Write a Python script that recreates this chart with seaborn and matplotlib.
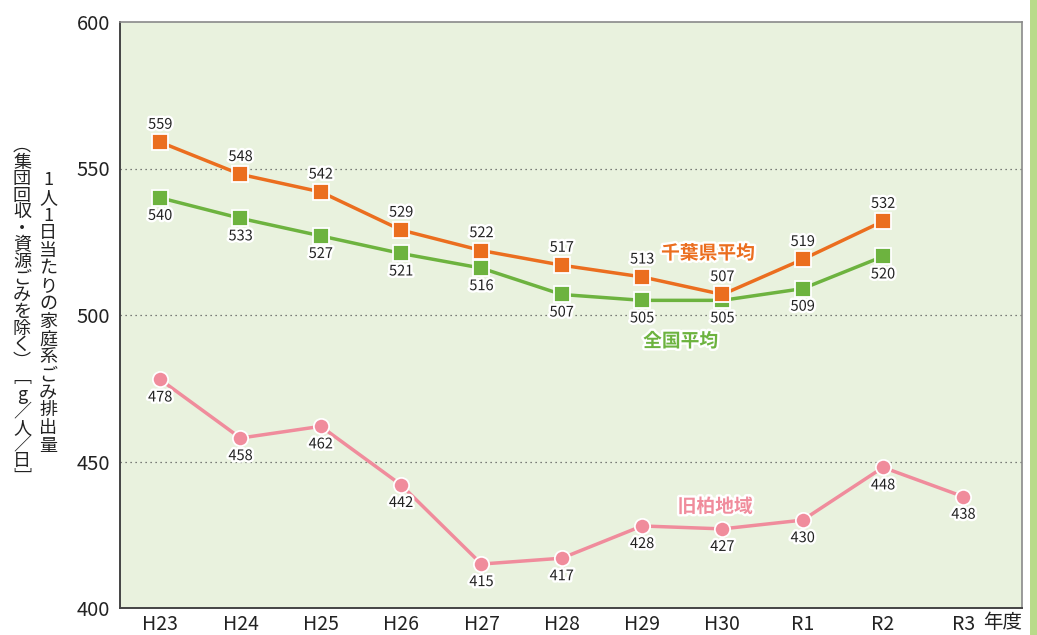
import numpy as np
import pandas as pd
import seaborn as sns
import matplotlib
matplotlib.use("Agg")
import matplotlib.pyplot as plt
import matplotlib.patheffects as pe
from matplotlib.patches import Rectangle

years = ["H23", "H24", "H25", "H26", "H27", "H28", "H29", "H30", "R1", "R2", "R3"]
chiba = [559, 548, 542, 529, 522, 517, 513, 507, 519, 532]
national = [540, 533, 527, 521, 516, 507, 505, 505, 509, 520]
kashiwa = [478, 458, 462, 442, 415, 417, 428, 427, 430, 448, 438]

ORANGE = "#EB6E1F"
GREEN = "#6DB33F"
PINK = "#F08C9C"
INK = "#222222"

sns.set_style("white")
plt.rcParams["font.family"] = ["Noto Sans CJK JP", "DejaVu Sans"]

fig = plt.figure(figsize=(10.37, 6.35), dpi=100)
ax = fig.add_axes([120 / 1037, 1 - 608 / 635, 902 / 1037, 586 / 635])
ax.set_facecolor("#E9F2DE")

outline = [pe.withStroke(linewidth=3.5, foreground="white")]


def draw(values, color, marker, offset):
    df = pd.DataFrame({"x": np.arange(len(values)), "y": values})
    sns.lineplot(data=df, x="x", y="y", color=color, linewidth=2.5, marker=marker,
                 markersize=11, markeredgecolor="white", markeredgewidth=1.3,
                 ax=ax, zorder=3)
    for i, v in zip(df["x"], df["y"]):
        ax.annotate(str(v), (i, v), xytext=(0, offset), textcoords="offset points",
                    ha="center", va="center", fontsize=10.5, color=INK,
                    path_effects=outline, zorder=4)


draw(kashiwa, PINK, "o", -13)
draw(national, GREEN, "s", -13)
draw(chiba, ORANGE, "s", 12.5)

ax.text(6.82, 521, "千葉県平均", color=ORANGE, fontsize=13.5, fontweight="bold",
        ha="center", va="center", path_effects=outline, zorder=5)
ax.text(6.48, 491, "全国平均", color=GREEN, fontsize=13.5, fontweight="bold",
        ha="center", va="center", path_effects=outline, zorder=5)
ax.text(6.91, 434.5, "旧柏地域", color=PINK, fontsize=13.5, fontweight="bold",
        ha="center", va="center", path_effects=outline, zorder=5)

ax.set_xlim(-0.5, 10.73)
ax.set_ylim(400, 600)
ax.set_xticks(range(len(years)))
ax.set_xticklabels(years, fontsize=14, color=INK)
ax.set_yticks([400, 450, 500, 550, 600])
ax.set_yticklabels(["400", "450", "500", "550", "600"], fontsize=14.5, color=INK)
ax.tick_params(axis="x", length=0, pad=4)
ax.tick_params(axis="y", length=3, width=0.8, color="#555555", pad=4)
ax.set_xlabel("")
ax.set_ylabel("")

for y in [450, 500, 550]:
    ax.axhline(y, color="#555555", linestyle=(0, (1, 3)), linewidth=0.9, zorder=1)

for side in ["left", "bottom"]:
    ax.spines[side].set_color("#444444")
    ax.spines[side].set_linewidth(1.4)
for side in ["top", "right"]:
    ax.spines[side].set_color("#8A8A8A")
    ax.spines[side].set_linewidth(1.2)

# vertical axis title (tate-gaki)
col1 = "1人1日当たりの家庭系ごみ排出量"
col2 = "︵集団回収・資源ごみを除く︶﹇g／人／日﹈"
fig.text(48 / 1037, 1 - 313 / 635, "\n".join(col1), fontsize=13, ha="center",
         va="center", multialignment="center", linespacing=0.98, color=INK)
fig.text(22 / 1037, 1 - 312 / 635, "\n".join(col2), fontsize=13, ha="center",
         va="center", multialignment="center", linespacing=0.9, color=INK)

fig.text(1003 / 1037, 1 - 622 / 635, "年度", fontsize=14, ha="center",
         va="center", color=INK)

fig.patches.append(Rectangle((1030 / 1037, 0), 7 / 1037, 1, transform=fig.transFigure,
                             facecolor="#B9DB8A", edgecolor="none"))

fig.savefig("out.png", dpi=100)
plt.close(fig)
